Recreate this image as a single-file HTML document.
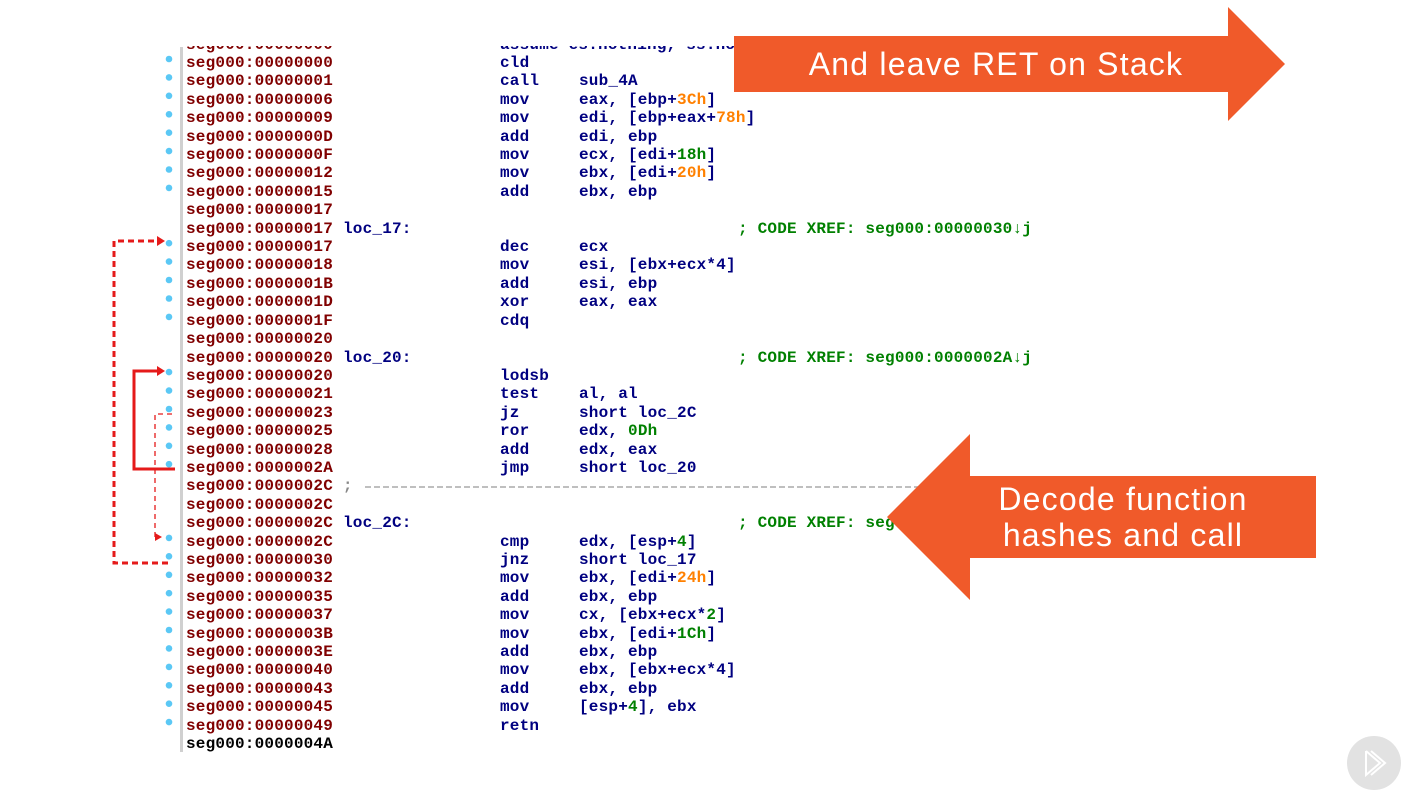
<!DOCTYPE html>
<html><head><meta charset="utf-8"><style>
body{margin:0;width:1405px;height:805px;background:#fff;position:relative;overflow:hidden}
#code{position:absolute;left:0;top:35.6px;font:bold 16px/18.42px "Liberation Mono",monospace;letter-spacing:0.2px}
.r{position:relative;height:18.42px;white-space:pre}
.r span{position:absolute;top:0}
.a{left:186px;color:#800000}
.l{left:343px;color:#000080}
.m{left:500px;color:#000080}
.o{left:579px;color:#000080}
.c{left:738px;color:#008000}
.or{color:#ff8000}.g{color:#008000}
.t{position:absolute;color:#fff;font-family:"Liberation Sans",sans-serif;font-size:32px;letter-spacing:1.2px;text-align:center}
</style></head><body>
<div id="code">
<div class="r"><span class="a">seg000:00000000</span><span class="m">assume es:nothing, ss:nothing</span></div>
<div class="r"><span class="a">seg000:00000000</span><span class="m">cld</span></div>
<div class="r"><span class="a">seg000:00000001</span><span class="m">call</span><span class="o">sub_4A</span></div>
<div class="r"><span class="a">seg000:00000006</span><span class="m">mov</span><span class="o">eax, [ebp+<b class="or">3Ch</b>]</span></div>
<div class="r"><span class="a">seg000:00000009</span><span class="m">mov</span><span class="o">edi, [ebp+eax+<b class="or">78h</b>]</span></div>
<div class="r"><span class="a">seg000:0000000D</span><span class="m">add</span><span class="o">edi, ebp</span></div>
<div class="r"><span class="a">seg000:0000000F</span><span class="m">mov</span><span class="o">ecx, [edi+<b class="g">18h</b>]</span></div>
<div class="r"><span class="a">seg000:00000012</span><span class="m">mov</span><span class="o">ebx, [edi+<b class="or">20h</b>]</span></div>
<div class="r"><span class="a">seg000:00000015</span><span class="m">add</span><span class="o">ebx, ebp</span></div>
<div class="r"><span class="a">seg000:00000017</span></div>
<div class="r"><span class="a">seg000:00000017</span><span class="l">loc_17:</span><span class="c">; CODE XREF: seg000:00000030↓j</span></div>
<div class="r"><span class="a">seg000:00000017</span><span class="m">dec</span><span class="o">ecx</span></div>
<div class="r"><span class="a">seg000:00000018</span><span class="m">mov</span><span class="o">esi, [ebx+ecx*4]</span></div>
<div class="r"><span class="a">seg000:0000001B</span><span class="m">add</span><span class="o">esi, ebp</span></div>
<div class="r"><span class="a">seg000:0000001D</span><span class="m">xor</span><span class="o">eax, eax</span></div>
<div class="r"><span class="a">seg000:0000001F</span><span class="m">cdq</span></div>
<div class="r"><span class="a">seg000:00000020</span></div>
<div class="r"><span class="a">seg000:00000020</span><span class="l">loc_20:</span><span class="c">; CODE XREF: seg000:0000002A↓j</span></div>
<div class="r"><span class="a">seg000:00000020</span><span class="m">lodsb</span></div>
<div class="r"><span class="a">seg000:00000021</span><span class="m">test</span><span class="o">al, al</span></div>
<div class="r"><span class="a">seg000:00000023</span><span class="m">jz</span><span class="o">short loc_2C</span></div>
<div class="r"><span class="a">seg000:00000025</span><span class="m">ror</span><span class="o">edx, <b class="g">0Dh</b></span></div>
<div class="r"><span class="a">seg000:00000028</span><span class="m">add</span><span class="o">edx, eax</span></div>
<div class="r"><span class="a">seg000:0000002A</span><span class="m">jmp</span><span class="o">short loc_20</span></div>
<div class="r"><span class="a">seg000:0000002C <b style="color:#888">;</b></span></div>
<div class="r"><span class="a">seg000:0000002C</span></div>
<div class="r"><span class="a">seg000:0000002C</span><span class="l">loc_2C:</span><span class="c">; CODE XREF: seg000:00000023↑j</span></div>
<div class="r"><span class="a">seg000:0000002C</span><span class="m">cmp</span><span class="o">edx, [esp+<b class="g">4</b>]</span></div>
<div class="r"><span class="a">seg000:00000030</span><span class="m">jnz</span><span class="o">short loc_17</span></div>
<div class="r"><span class="a">seg000:00000032</span><span class="m">mov</span><span class="o">ebx, [edi+<b class="or">24h</b>]</span></div>
<div class="r"><span class="a">seg000:00000035</span><span class="m">add</span><span class="o">ebx, ebp</span></div>
<div class="r"><span class="a">seg000:00000037</span><span class="m">mov</span><span class="o">cx, [ebx+ecx*<b class="g">2</b>]</span></div>
<div class="r"><span class="a">seg000:0000003B</span><span class="m">mov</span><span class="o">ebx, [edi+<b class="g">1Ch</b>]</span></div>
<div class="r"><span class="a">seg000:0000003E</span><span class="m">add</span><span class="o">ebx, ebp</span></div>
<div class="r"><span class="a">seg000:00000040</span><span class="m">mov</span><span class="o">ebx, [ebx+ecx*4]</span></div>
<div class="r"><span class="a">seg000:00000043</span><span class="m">add</span><span class="o">ebx, ebp</span></div>
<div class="r"><span class="a">seg000:00000045</span><span class="m">mov</span><span class="o">[esp+<b class="g">4</b>], ebx</span></div>
<div class="r"><span class="a">seg000:00000049</span><span class="m">retn</span></div>
<div class="r"><span class="a" style="color:#000">seg000:0000004A</span></div>
</div>
<div style="position:absolute;left:0;top:0;width:1405px;height:46px;background:#fff"></div>
<div style="position:absolute;left:180px;top:47px;width:3px;height:705px;background:#d0d0d0"></div>
<svg width="1405" height="805" style="position:absolute;left:0;top:0">
<line x1="365" y1="487" x2="930" y2="487" stroke="#aaa" stroke-width="1.5" stroke-dasharray="6,3"/>
<g fill="#5bc8f5">
<circle cx="169" cy="59" r="3.3"/><circle cx="169" cy="77.4" r="3.3"/><circle cx="169" cy="95.8" r="3.3"/><circle cx="169" cy="114.3" r="3.3"/><circle cx="169" cy="132.7" r="3.3"/><circle cx="169" cy="151.1" r="3.3"/><circle cx="169" cy="169.5" r="3.3"/><circle cx="169" cy="187.9" r="3.3"/>
<circle cx="169" cy="243.2" r="3.3"/><circle cx="169" cy="261.6" r="3.3"/><circle cx="169" cy="280" r="3.3"/><circle cx="169" cy="298.5" r="3.3"/><circle cx="169" cy="316.9" r="3.3"/>
<circle cx="169" cy="372.1" r="3.3"/><circle cx="169" cy="390.6" r="3.3"/><circle cx="169" cy="409" r="3.3"/><circle cx="169" cy="427.4" r="3.3"/><circle cx="169" cy="445.8" r="3.3"/><circle cx="169" cy="464.2" r="3.3"/>
<circle cx="169" cy="537.9" r="3.3"/><circle cx="169" cy="556.3" r="3.3"/><circle cx="169" cy="574.8" r="3.3"/><circle cx="169" cy="593.2" r="3.3"/><circle cx="169" cy="611.6" r="3.3"/><circle cx="169" cy="630" r="3.3"/><circle cx="169" cy="648.4" r="3.3"/><circle cx="169" cy="666.9" r="3.3"/><circle cx="169" cy="685.3" r="3.3"/><circle cx="169" cy="703.7" r="3.3"/><circle cx="169" cy="722.1" r="3.3"/>
</g>
<g stroke="#e51a1a" fill="none">
<polyline points="168,563 114,563 114,241 158,241" stroke-width="3" stroke-dasharray="6,4"/>
<polyline points="175,469 134,469 134,371 158,371" stroke-width="3"/>
<polyline points="172,414 155,414 155,537 158,537" stroke-width="1.3" stroke-dasharray="5,4"/>
</g>
<g fill="#e51a1a">
<polygon points="157,236 165,241 157,246"/><polygon points="157,366 165,371 157,376"/><polygon points="155,533 162,537 155,541"/>
</g>
<polygon points="734,36 1228,36 1228,7 1285,64 1228,121 1228,92 734,92" fill="#f05a2a"/>
<polygon points="1316,476 970,476 970,434 887,517 970,600 970,558 1316,558" fill="#f05a2a"/>
<circle cx="1374" cy="763" r="27" fill="#e2e2e2"/>
<polyline points="1366,751 1366,775 1380,763 1366,751" fill="none" stroke="#fff" stroke-width="2"/>
<polyline points="1371,751 1385,763 1371,775" fill="none" stroke="#fff" stroke-width="2"/>
</svg>
<div class="t" style="left:734px;top:45px;width:524px;line-height:38px">And leave RET on Stack</div>
<div class="t" style="left:960px;top:481px;width:326px;line-height:36px">Decode function<br>hashes and call</div>
</body></html>
